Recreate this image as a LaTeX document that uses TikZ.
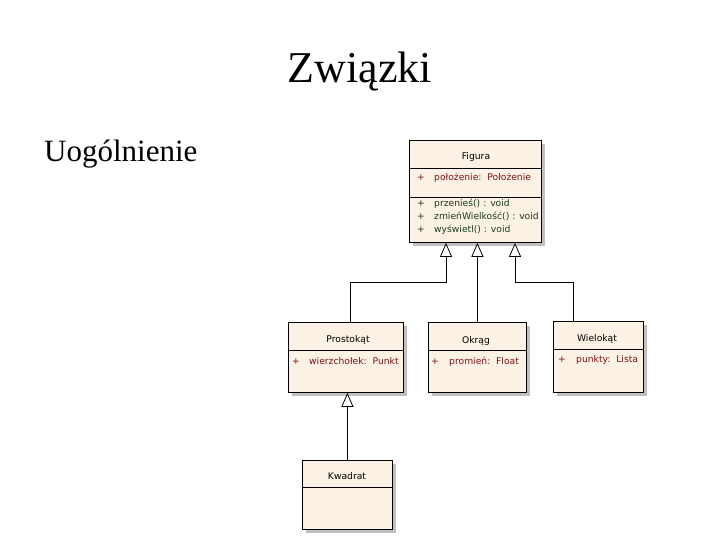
\documentclass[tikz,border=0pt]{standalone}
\usepackage{fontspec}
\setmainfont{Liberation Serif}
\newfontfamily\umlfont{DejaVu Sans}
\usetikzlibrary{arrows.meta,shadows}
\definecolor{umlfill}{HTML}{FBF1E4}
\definecolor{attrcol}{HTML}{7A1414}
\definecolor{opcol}{HTML}{1E3A1E}
\definecolor{shadowcol}{HTML}{C0C0C0}
\begin{document}
\begin{tikzpicture}[x=1pt,y=-1pt,
  cls/.style={draw=black, line width=0.8pt, fill=umlfill, anchor=north west, inner sep=0pt,
    general shadow={fill=shadowcol, shadow xshift=3.5pt, shadow yshift=-3.5pt}},
  divider/.style={draw=black, line width=0.8pt},
  umltxt/.style={font=\umlfont\fontsize{9.2}{11}\selectfont, inner sep=0pt},
  cname/.style={umltxt, anchor=base, text=black},
  attr/.style={umltxt, anchor=base west, text=attrcol},
  oper/.style={umltxt, anchor=base west, text=opcol},
  gen/.style={draw=black, line width=0.8pt, -{Triangle[open, length=14pt, width=12pt, fill=white]}},
]
\useasboundingbox (0,0) rectangle (720,540);
\node[font=\fontsize{44}{50}\selectfont, anchor=base] (title) at (360,83) {Związki};
\node[font=\fontsize{31}{36}\selectfont, anchor=base west, inner sep=0pt] (sub) at (44,162) {Uogólnienie};

% Figura
\node[cls, minimum width=132pt, minimum height=102pt] (fig) at (409,140) {};
\draw[divider] (409,168) -- (541,168);
\draw[divider] (409,197) -- (541,197);
\node[cname] (fign) at (476,160) {Figura};
\node[attr] (figa1p) at (417,181) {+};
\node[attr] (figa1) at (434,181) {położenie:\ \ Położenie};
\node[oper] (figo1p) at (417,207) {+};
\node[oper] (figo1) at (434,207) {przenieś() : void};
\node[oper] (figo2p) at (417,220) {+};
\node[oper] (figo2) at (434,220) {zmieńWielkość() : void};
\node[oper] (figo3p) at (417,233) {+};
\node[oper] (figo3) at (434,233) {wyświetl() : void};

% Prostokąt
\node[cls, minimum width=115pt, minimum height=70pt] (pro) at (288,322) {};
\draw[divider] (288,350) -- (403,350);
\node[cname] (pron) at (348,342) {Prostokąt};
\node[attr] (proa1p) at (292,364) {+};
\node[attr] (proa1) at (309,364) {wierzchołek:\ \ Punkt};

% Okrąg
\node[cls, minimum width=98pt, minimum height=70pt] (okr) at (428,322) {};
\draw[divider] (428,350) -- (526,350);
\node[cname] (okrn) at (476,343) {Okrąg};
\node[attr] (okra1p) at (431,364) {+};
\node[attr] (okra1) at (449,364) {promień:\ \ Float};

% Wielokąt
\node[cls, minimum width=90pt, minimum height=71pt] (wie) at (553,321) {};
\draw[divider] (553,349) -- (643,349);
\node[cname] (wien) at (597,341) {Wielokąt};
\node[attr] (wiea1p) at (558,362) {+};
\node[attr] (wiea1) at (576,362) {punkty:\ \ Lista};

% Kwadrat
\node[cls, minimum width=90pt, minimum height=69pt] (kwa) at (302,460) {};
\draw[divider] (302,487) -- (392,487);
\node[cname] (kwan) at (347,479) {Kwadrat};

% connectors
\coordinate (jp1) at (350,282);
\coordinate (jp2) at (446,282);
\coordinate (jw1) at (573,282);
\coordinate (jw2) at (515,282);
\draw[gen] (pro.north -| jp1) -- (jp1) -- (jp2) -- (jp2 |- fig.south);
\draw[gen] (okr.north) -- (fig.south -| okr.north);
\draw[gen] (wie.north -| jw1) -- (jw1) -- (jw2) -- (jw2 |- fig.south);
\draw[gen] (kwa.north) -- (pro.south -| kwa.north);
\end{tikzpicture}
\end{document}
